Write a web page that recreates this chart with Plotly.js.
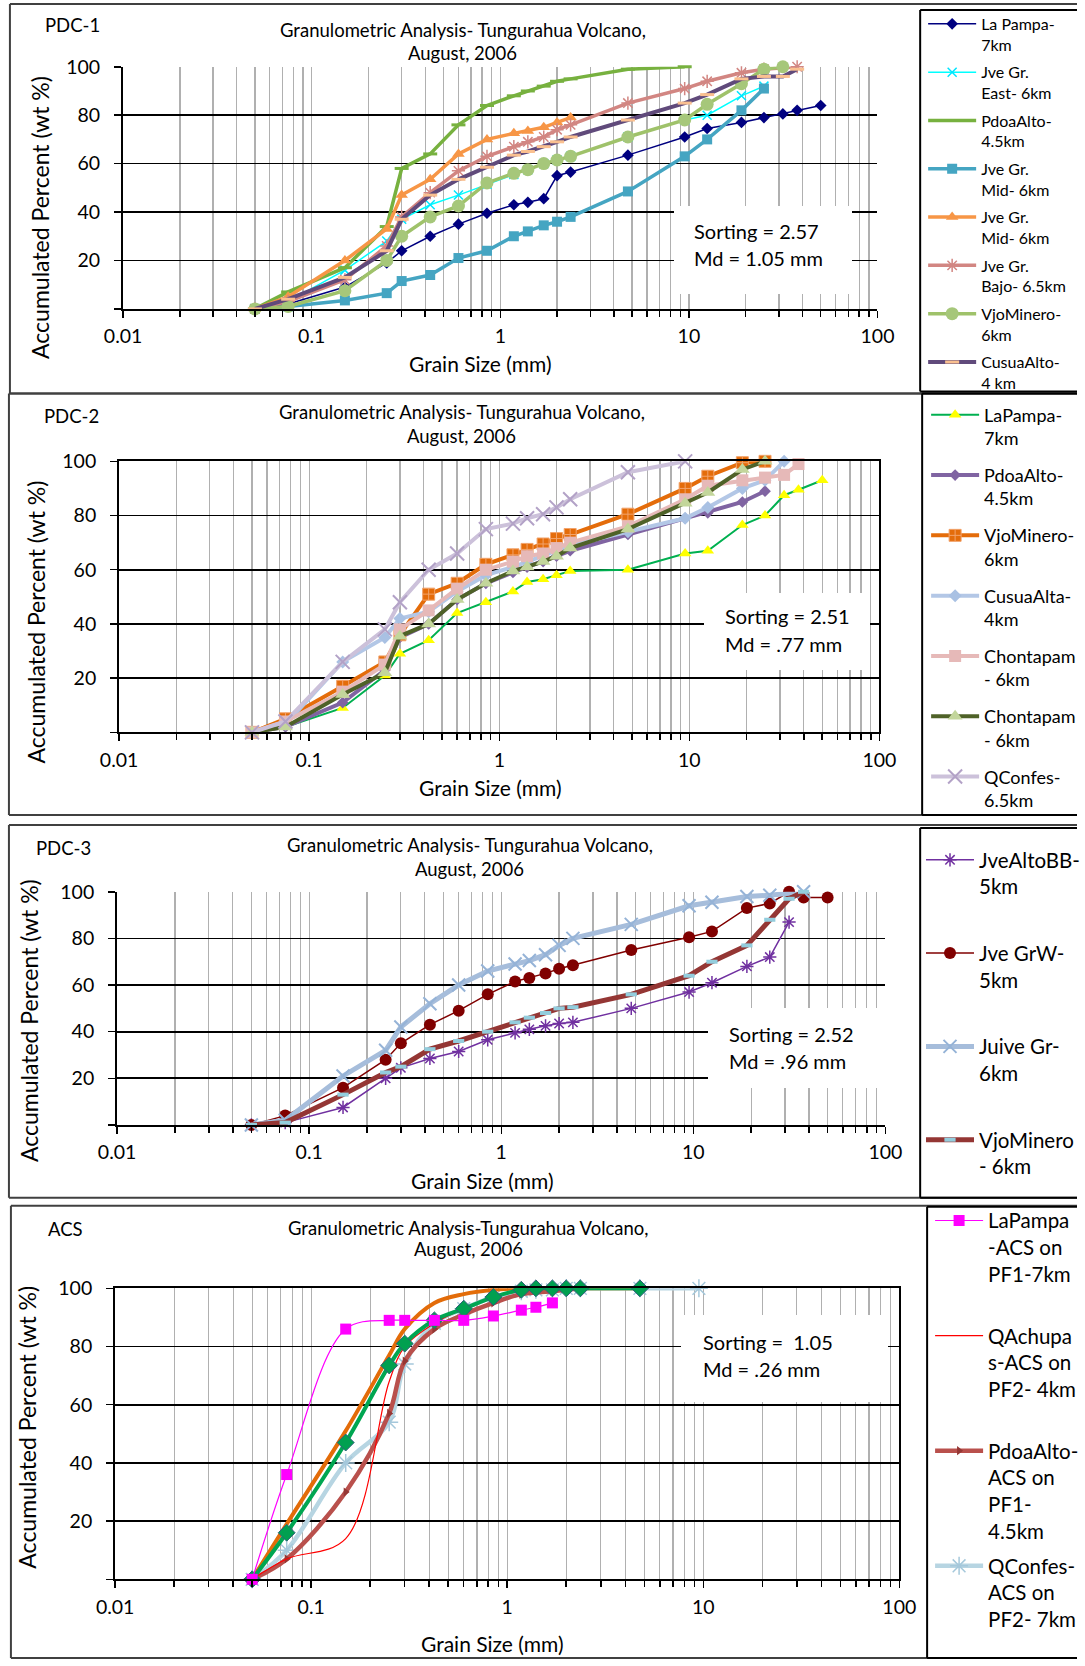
<!DOCTYPE html>
<html>
<head>
<meta charset="utf-8">
<script src="https://cdn.plot.ly/plotly-3.0.1.min.js"></script>
<style>
html,body{margin:0;padding:0;background:#ffffff;overflow:hidden;}
#chart{width:1085px;height:1666px;overflow:hidden;}
</style>
</head>
<body>
<div id="chart"></div>
<script>
// ---------------- DATA ----------------
// sieve sizes (mm) shared by all series; null = no value at that sieve
const SIEVE_MM = [0.05,0.075,0.15,0.25,0.3,0.425,0.6,0.85,1.18,1.4,1.7,2.0,2.36,4.75,9.5,12.5,19,25,31.5,37.5,50];

const X_TICK_VALUES = [0.01,0.1,1,10,100];
const X_TICK_LABELS = ['0.01','0.1','1','10','100'];
const Y_TICK_VALUES = [0,20,40,60,80,100];
const Y_TICK_LABELS = ['','20','40','60','80','100'];

// PDC-1
const PDC1_LAPAMPA   = [0,2,9,19,24,30,35,39.5,43,44,45.5,55,56.5,63.5,71,74.5,77,79,80.5,82,84];
const PDC1_JVE_EAST  = [0,3,16,28,37,43,47,51.5,55.5,57.5,60,61.5,63,71,78,80,88,92];
const PDC1_PDOAALTO  = [0,7,17,34,58,64,76,84,88,90,92,94,95,99,100];
const PDC1_JVE_MID_A = [0,1,3.5,6.5,11.5,14,21,24,30,32,34.5,36,38,48.5,63,70,82,91];
const PDC1_JVE_MID_B = [0,5,20,33,47,53.5,64,70,72.5,73.5,75,77,79];
const PDC1_JVE_BAJO  = [0,3,12,26,38,48,57,63,67,69,71,74,76,85,91,94,97.5,99,null,100];
const PDC1_VJOMINERO = [0,1,7.5,20,30,38,42.5,52,56,57.5,60,61.5,63,71,78,84.5,93,99,100];
const PDC1_CUSUAALTO = [0,4,13,24,37,47,53.5,58.5,63.5,65,67,69,71,78,85,88.5,95,96,96,99];

// PDC-2
const PDC2_LAPAMPA    = [0,2,9,21,29,34,44,48,52,55.5,56.5,58,59.5,60,66,67,76.5,80,87.5,89.5,93];
const PDC2_PDOAALTO   = [0,2,11,23,35,40,49,55,59,61,63,65,67,73,79,81,85,89];
const PDC2_VJOMINERO  = [0,5,17,26,36,51,55,62,65.5,67.5,69.5,71.5,73,80.5,90,94.5,99.5,100];
const PDC2_CUSUAALTA  = [0,3,26,35,42,44.5,52,58,61,63,65,67,69,74,79,83,90,93,100];
const PDC2_CHONTAPAM1 = [0,4,15,25,38,45,53,60,63,65,66,68,70,76,86,91,93,94,95,99];
const PDC2_CHONTAPAM2 = [0,2,14,22,35.5,40,49,55,59.5,61,63,65,68,75,84.5,88.5,97,100];
const PDC2_QCONFES    = [0,4,26,38,48,60,66,75,77,79,80.5,83,86,96,100];

// PDC-3
const PDC3_JVEALTOBB  = [0,1,7.5,20,24.5,28.5,31.5,36.5,39.5,41,42.5,43.5,44,50,57,61,68,72,87];
const PDC3_JVEGRW     = [0,4,16,28,35,43,49,56,61.5,63,65,67,68.5,75,80.5,83,93,95,100,97.5,97.5];
const PDC3_JUIVEGR    = [0,2,21,32,42,52,60,66,69,70.5,73,77,80,86,94,95.5,98,98.5,null,100];
const PDC3_VJOMINERO  = [0,1,13,22.5,25,32.5,36,40,44,46,48,50,50.5,56,64,70,77,88,97,100];

// ACS
const ACS_LAPAMPA  = [0,36,86,89,89,89,89,90.5,92.5,93.5,95];
const ACS_QACHUPAS = [0,7,14,68,80,88,93,97,99,null,100];
const ACS_PDOAALTO = [0,7,30,57,75,86,91,95,98,null,99,null,100];
const ACS_QCONFES  = [0,10,40,54,74,88,93,97,99,99.5,99.5,100,100,100,100];
const ACS_GREEN    = [0,16,47,73.5,81,89,93,97,99.5,100,100,100,100,100];
const ACS_ORANGE   = [0,19,51,77,86,95,98,99.5,100,null,null,null,100,100];

// ---------------- HELPERS ----------------
const W = 1085, H = 1666;
const px = v => v / W;
const py = v => 1 - v / H;
const FONT = 'Lato, "Open Sans", sans-serif';

const MINOR = [];
[0.01,0.1,1,10].forEach(d => { for (let k = 2; k <= 9; k++) MINOR.push(+(d*k).toPrecision(3)); });

let groupCounter = 0;
function series(y, name, n, style, legendName, extra) {
  groupCounter++;
  return Object.assign({
    type: 'scatter',
    x: SIEVE_MM.slice(0, y.length),
    y: y,
    name: name,
    mode: 'lines+markers',
    connectgaps: true,
    cliponaxis: false,
    hoverinfo: 'skip',
    xaxis: n === 1 ? 'x' : 'x' + n,
    yaxis: n === 1 ? 'y' : 'y' + n,
    legend: legendName,
    legendgroup: 'g' + groupCounter
  }, style, extra || {});
}

const traces = [
  // PDC-1
  series(PDC1_LAPAMPA, 'La Pampa-<br>7km', 1, {line:{color:'#000080',width:1.5}, marker:{symbol:'diamond',size:9,color:'#000080'}}, 'legend'),
  series(PDC1_JVE_EAST, 'Jve Gr.<br>East- 6km', 1, {line:{color:'#00FFFF',width:1.5}, marker:{symbol:'x-thin-open',size:9,color:'#00E5FF',line:{width:1.5,color:'#00E5FF'}}}, 'legend'),
  series(PDC1_PDOAALTO, 'PdoaAlto-<br>4.5km', 1, {line:{color:'#77B13F',width:3.5}, marker:{symbol:'line-ew-open',size:10,color:'#77B13F',line:{width:3,color:'#77B13F'}}}, 'legend'),
  series(PDC1_JVE_MID_A, 'Jve Gr.<br>Mid- 6km', 1, {line:{color:'#45A5C2',width:3.5}, marker:{symbol:'square',size:10,color:'#45A5C2'}}, 'legend'),
  series(PDC1_JVE_MID_B, 'Jve Gr.<br>Mid- 6km ', 1, {line:{color:'#F79646',width:3.5}, marker:{symbol:'triangle-up',size:11,color:'#F79646'}}, 'legend'),
  series(PDC1_JVE_BAJO, 'Jve Gr.<br>Bajo- 6.5km', 1, {line:{color:'#D28682',width:3.5}, marker:{symbol:'asterisk-open',size:11,color:'#D28682',line:{width:1.5,color:'#D28682'}}}, 'legend'),
  series(PDC1_VJOMINERO, 'VjoMinero-<br>6km', 1, {line:{color:'#9FC26A',width:3.5}, marker:{symbol:'circle',size:13,color:'#A6C77A'}}, 'legend'),
  series(PDC1_CUSUAALTO, 'CusuaAlto-<br>4 km', 1, {line:{color:'#604A7B',width:4}, marker:{symbol:'line-ew-open',size:10,color:'#FAC090',line:{width:3,color:'#FAC090'}}}, 'legend'),
  // PDC-2
  series(PDC2_LAPAMPA, 'LaPampa-<br>7km', 2, {line:{color:'#00B050',width:2}, marker:{symbol:'triangle-up',size:11,color:'#FFFF00'}}, 'legend2'),
  series(PDC2_PDOAALTO, 'PdoaAlto-<br>4.5km', 2, {line:{color:'#8064A2',width:4}, marker:{symbol:'diamond',size:9,color:'#8064A2'}}, 'legend2'),
  series(PDC2_VJOMINERO, 'VjoMinero-<br>6km', 2, {line:{color:'#E46C0A',width:4}, marker:{symbol:'square-cross',size:12,color:'#E46C0A',line:{width:1,color:'#F2A36B'}}}, 'legend2'),
  series(PDC2_CUSUAALTA, 'CusuaAlta-<br>4km', 2, {line:{color:'#B3C7E6',width:4}, marker:{symbol:'diamond',size:10,color:'#A9C1E3'}}, 'legend2'),
  series(PDC2_CHONTAPAM1, 'Chontapam<br>- 6km', 2, {line:{color:'#E6B9B8',width:4}, marker:{symbol:'square',size:12,color:'#E6B9B8'}}, 'legend2'),
  series(PDC2_CHONTAPAM2, 'Chontapam<br>- 6km ', 2, {line:{color:'#4F6228',width:4}, marker:{symbol:'triangle-up',size:13,color:'#C3D69B'}}, 'legend2'),
  series(PDC2_QCONFES, 'QConfes-<br>6.5km', 2, {line:{color:'#CCC1DA',width:4}, marker:{symbol:'x-thin-open',size:14,color:'#B3A2C7',line:{width:2,color:'#B3A2C7'}}}, 'legend2'),
  // PDC-3
  series(PDC3_JVEALTOBB, 'JveAltoBB-<br>5km', 3, {line:{color:'#7030A0',width:1.5}, marker:{symbol:'asterisk-open',size:11,color:'#7030A0',line:{width:1.5,color:'#7030A0'}}}, 'legend3'),
  series(PDC3_JVEGRW, 'Jve GrW-<br>5km', 3, {line:{color:'#800000',width:1.5}, marker:{symbol:'circle',size:12,color:'#800000'}}, 'legend3'),
  series(PDC3_JUIVEGR, 'Juive Gr-<br>6km', 3, {line:{color:'#A6BDDB',width:5}, marker:{symbol:'x-thin-open',size:13,color:'#95B3D7',line:{width:2,color:'#95B3D7'}}}, 'legend3'),
  series(PDC3_VJOMINERO, 'VjoMinero<br>- 6km', 3, {line:{color:'#943634',width:5}, marker:{symbol:'line-ew-open',size:8,color:'#93CDDD',line:{width:4,color:'#93CDDD'}}}, 'legend3'),
  // ACS
  series(ACS_QCONFES, 'QConfes-<br>ACS on<br>PF2- 7km<br>\u00A0', 4, {line:{color:'#B7D5E2',width:4.5,shape:'spline'}, marker:{symbol:'asterisk-open',size:15,color:'#A5C8DB',line:{width:1.5,color:'#A5C8DB'}}}, 'legend4', {legendrank:4}),
  series(ACS_PDOAALTO, 'PdoaAlto-<br>ACS on<br>PF1-<br>4.5km', 4, {line:{color:'#B9504C',width:4.5,shape:'spline'}, marker:{symbol:'triangle-right',size:8,color:'#953734'}}, 'legend4', {legendrank:3}),
  series(ACS_QACHUPAS, 'QAchupa<br>s-ACS on<br>PF2- 4km<br>\u00A0', 4, {mode:'lines', line:{color:'#FF0000',width:1.2,shape:'spline'}}, 'legend4', {legendrank:2}),
  series(ACS_ORANGE, 'orange', 4, {mode:'lines', line:{color:'#E36C09',width:4,shape:'spline'}}, 'legend4', {showlegend:false}),
  series(ACS_GREEN, 'green', 4, {line:{color:'#00A651',width:4,shape:'spline'}, marker:{symbol:'diamond',size:13,color:'#00A050',line:{width:1,color:'#2F5F7A'}}}, 'legend4', {showlegend:false}),
  series(ACS_LAPAMPA, 'LaPampa<br>-ACS on<br>PF1-7km<br>\u00A0', 4, {line:{color:'#FF00FF',width:1.2,shape:'spline'}, marker:{symbol:'square',size:11,color:'#FF00FF'}}, 'legend4', {legendrank:1})
];

// ---------------- LAYOUT ----------------
const PLOTS = [
  {l:124, r:884, t:67,   b:310,  mirror:false},
  {l:120, r:886, t:463,  b:735,  mirror:true},
  {l:118, r:892, t:895,  b:1129, mirror:false},
  {l:116, r:906, t:1293, b:1585, mirror:true}
];

function xAxis(p, n) {
  return {
    type:'log', range:[-2,2], domain:[px(p.l), px(p.r)], anchor: n===1?'y':'y'+n,
    tickmode:'array', tickvals:X_TICK_VALUES, ticktext:X_TICK_LABELS,
    showgrid:true, gridcolor:'#B0B0B0', gridwidth:1.3,
    showline:true, linecolor:'#000000', linewidth:2, mirror:p.mirror,
    ticks:'outside', ticklen:7, tickwidth:1.5, tickcolor:'#000000',
    ticklabelstandoff:2,
    tickfont:{family:FONT, size:19.5, color:'#000000'},
    minor:{tickmode:'array', tickvals:MINOR, showgrid:true, gridcolor:'#B0B0B0', gridwidth:1.3,
           ticks:'outside', ticklen:6, tickwidth:1.5, tickcolor:'#000000'},
    zeroline:false, fixedrange:true
  };
}
function yAxis(p, n) {
  return {
    range:[0,100], domain:[py(p.b), py(p.t)], anchor: n===1?'x':'x'+n,
    tickmode:'array', tickvals:Y_TICK_VALUES, ticktext:Y_TICK_LABELS,
    showgrid:true, gridcolor:'#000000', gridwidth:1.7,
    showline:true, linecolor:'#000000', linewidth:2, mirror:p.mirror,
    ticks:'outside', ticklen:7, tickwidth:1.5, tickcolor:'#000000',
    ticklabelstandoff:10,
    tickfont:{family:FONT, size:19.5, color:'#000000'},
    zeroline:false, fixedrange:true
  };
}

function txt(text, x, y, size, opts) {
  return Object.assign({text:text, x:px(x), y:py(y), xref:'paper', yref:'paper', showarrow:false,
    xanchor:'center', yanchor:'middle', font:{family:FONT, size:size, color:'#000000'}}, opts || {});
}

// white boxes behind the Sorting/Md text
const BOXES = [
  {l:679, r:857, t:207, b:295},
  {l:709, r:875, t:595, b:672},
  {l:713, r:891, t:1012, b:1092},
  {l:686, r:893, t:1320, b:1407}
];

const PANELS = [
  {label:'PDC-1', lx:43, ly:25,  tcx:466, t1:30,  t2:53,  title:'Granulometric Analysis- Tungurahua Volcano,', ytx:41, yty:218, xtx:484, xty:365, sx:697, s1:232, s2:259, s1t:'Sorting = 2.57', s2t:'Md = 1.05 mm'},
  {label:'PDC-2', lx:42, ly:418, tcx:465, t1:413, t2:438, title:'Granulometric Analysis- Tungurahua Volcano,', ytx:36, yty:624, xtx:494, xty:790, sx:728, s1:618, s2:646, s1t:'Sorting = 2.51', s2t:'Md = .77 mm'},
  {label:'PDC-3', lx:34, ly:851, tcx:473, t1:848, t2:872, title:'Granulometric Analysis- Tungurahua Volcano,', ytx:30, yty:1024, xtx:486, xty:1185, sx:732, s1:1038, s2:1065, s1t:'Sorting = 2.52', s2t:'Md = .96 mm'},
  {label:'ACS',   lx:46, ly:1233, tcx:472, t1:1232, t2:1254, title:'Granulometric Analysis-Tungurahua Volcano,', ytx:27, yty:1432, xtx:496, xty:1649, sx:706, s1:1347, s2:1374, s1t:'Sorting =  1.05', s2t:'Md = .26 mm'}
];

const annotations = [];
BOXES.forEach(B => {
  annotations.push({text:'\u00A0', x:px(B.l), y:py(B.t), xref:'paper', yref:'paper', xanchor:'left', yanchor:'top',
    width:B.r-B.l, height:B.b-B.t, bgcolor:'#ffffff', borderpad:0, borderwidth:0, showarrow:false,
    font:{family:FONT, size:10, color:'#ffffff'}});
});
PANELS.forEach(P => {
  annotations.push(txt(P.label, P.lx, P.ly, 18.5, {xanchor:'left'}));
  annotations.push(txt(P.title, P.tcx, P.t1, 18.5));
  annotations.push(txt('August, 2006', P.tcx, P.t2, 18.5));
  annotations.push(txt('Accumulated Percent (wt %)', P.ytx, P.yty, 23, {textangle:-90}));
  annotations.push(txt('Grain Size (mm)', P.xtx, P.xty, 21));
  annotations.push(txt(P.s1t, P.sx, P.s1, 20, {xanchor:'left'}));
  annotations.push(txt(P.s2t, P.sx, P.s2, 20, {xanchor:'left'}));
});

// panel frames and legend frames (open on the right: they run off the page)
const FRAMES = [
  {l:10, t:4,   b:395,  c:'#404040'},
  {l:9,  t:395, b:818,  c:'#404040'},
  {l:9,  t:828, b:1202, c:'#404040'},
  {l:11, t:1210, b:1664, c:'#404040'},
  {l:927, t:10,  b:393,  c:'#000000'},
  {l:929, t:395, b:818,  c:'#000000'},
  {l:927, t:831, b:1202, c:'#000000'},
  {l:934, t:1211, b:1664, c:'#000000'}
];
const shapes = [];
FRAMES.forEach(F => {
  const ln = (x0, y0, x1, y1) => ({type:'line', xref:'paper', yref:'paper', x0:px(x0), y0:py(y0), x1:px(x1), y1:py(y1),
    line:{color:F.c, width:2}, layer:'above'});
  shapes.push(ln(F.l, F.t, W, F.t));
  shapes.push(ln(F.l, F.b, W, F.b));
  shapes.push(ln(F.l, F.t, F.l, F.b));
});

function legendCfg(x, y, size, gap) {
  return {x:px(x), y:py(y), xanchor:'left', yanchor:'top', xref:'paper', yref:'paper',
    font:{family:FONT, size:size, color:'#000000'}, bgcolor:'rgba(0,0,0,0)', borderwidth:0,
    tracegroupgap:gap, valign:'top', itemwidth:48, itemclick:false, itemdoubleclick:false, traceorder:'grouped'};
}

const layout = {
  width:W, height:H, margin:{l:0,r:0,t:0,b:0}, paper_bgcolor:'#ffffff', plot_bgcolor:'#ffffff',
  showlegend:true,
  xaxis:xAxis(PLOTS[0],1), yaxis:yAxis(PLOTS[0],1),
  xaxis2:xAxis(PLOTS[1],2), yaxis2:yAxis(PLOTS[1],2),
  xaxis3:xAxis(PLOTS[2],3), yaxis3:yAxis(PLOTS[2],3),
  xaxis4:xAxis(PLOTS[3],4), yaxis4:yAxis(PLOTS[3],4),
  legend:legendCfg(930, 7, 16, 3.7),
  legend2:legendCfg(933, 398, 18, 10.5),
  legend3:legendCfg(928, 843, 20.5, 37),
  legend4:legendCfg(937, 1205, 20.5, 5.5),
  annotations:annotations,
  shapes:shapes
};

Plotly.newPlot('chart', traces, layout, {staticPlot:true, displayModeBar:false});
</script>
</body>
</html>
